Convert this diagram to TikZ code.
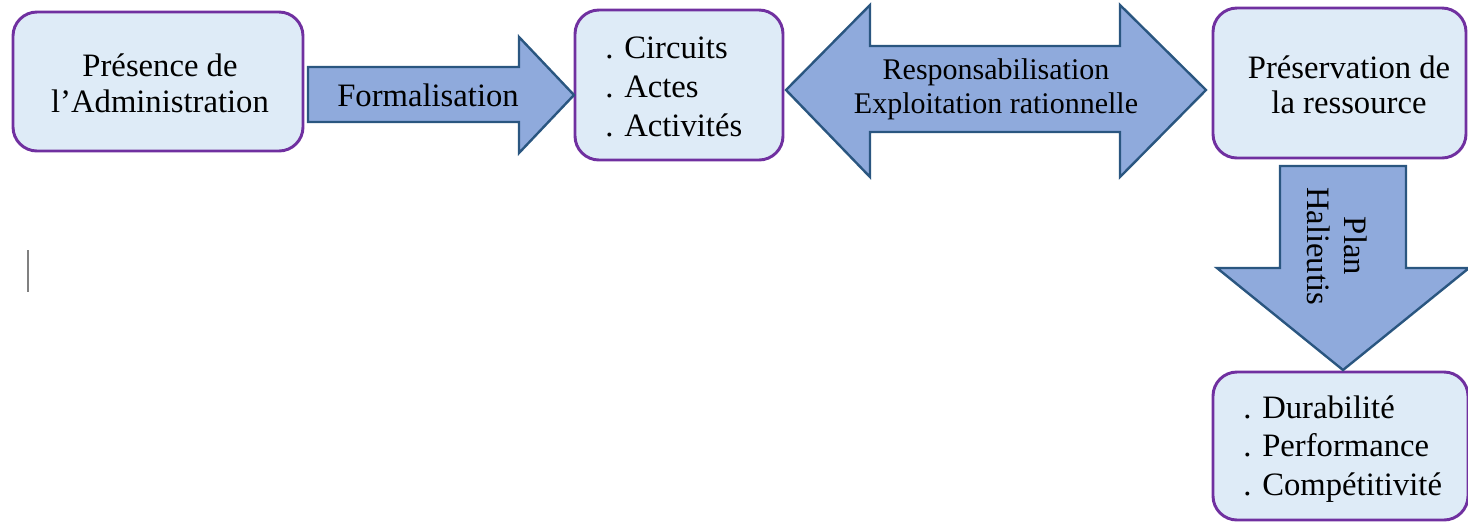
\documentclass[tikz,border=0pt]{standalone}
\usepackage{fontspec}
\setmainfont{Liberation Serif}
\definecolor{boxfill}{HTML}{DEEBF7}
\definecolor{boxline}{HTML}{7030A0}
\definecolor{arrfill}{HTML}{8FAADC}
\definecolor{arrline}{HTML}{2A5680}
\begin{document}
\begin{tikzpicture}[x=0.75pt,y=-0.75pt,
  box/.style={draw=boxline, fill=boxfill, line width=2.2pt, rounded corners=18pt, inner sep=0pt},
  blockarrow/.style={draw=arrline, fill=arrfill, line width=1.8pt, line join=miter},
  lbl/.style={inner sep=0pt, align=center},
  fs/.style={font={\fontsize{24.5}{#1}\selectfont}},
  fsn/.style={font={\fontsize{22.5}{#1}\selectfont}}]
\useasboundingbox (0,0) rectangle (1468,522);
% boxes
\node[box, minimum width=217.5pt, minimum height=104.25pt] (b1) at (158,81.5) {};
\node[box, minimum width=156pt, minimum height=112.5pt] (b2) at (679,85) {};
\node[box, minimum width=189.75pt, minimum height=112.5pt] (b3) at (1339.5,83) {};
\node[box, minimum width=191.25pt, minimum height=111pt] (b4) at (1340.5,446) {};
% block arrows
\draw[blockarrow] (308,67) -- (519,67) -- (519,37) -- (574,95) -- (519,153) -- (519,122) -- (308,122) -- cycle;
\draw[blockarrow] (786,90) -- (870,5) -- (870,46) -- (1120,46) -- (1120,5) -- (1206,90) -- (1120,177) -- (1120,132) -- (870,132) -- (870,177) -- cycle;
\draw[blockarrow] (1280,166) -- (1406,166) -- (1406,268) -- (1469,268) -- (1343,370) -- (1217,268) -- (1280,268) -- cycle;
% texts
\node[lbl, fs=27pt] (t1) at (160,83) {Présence de\\l’Administration};
\node[lbl, fs=27pt] (t2) at (428,95) {Formalisation};
\node[lbl, fs=29pt, align=left, anchor=west] (t3) at (605,87) {. Circuits\\. Actes\\. Activités};
\node[lbl, fsn=25.5pt] (t4) at (996,89) {Responsabilisation\\Exploitation rationnelle};
\node[lbl, fs=26pt] (t5) at (1349,85) {Préservation de\\la ressource};
\node[lbl, fs=28pt, rotate=-90] (t6) at (1337,246) {Plan\\Halieutis};
\node[lbl, fs=29pt, align=left, anchor=west] (t7) at (1243,449) {. Durabilité\\. Performance\\. Compétitivité};
% text cursor
\draw[gray, line width=1pt] (28,250) -- (28,292);
\end{tikzpicture}
\end{document}
